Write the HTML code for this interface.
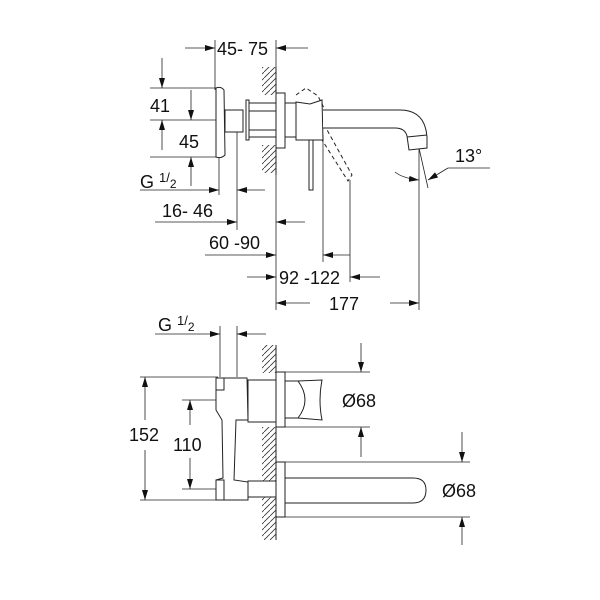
<!DOCTYPE html>
<html><head><meta charset="utf-8"><style>html,body{margin:0;padding:0;background:#fff}svg{display:block}</style></head>
<body>
<svg width="600" height="600" viewBox="0 0 600 600" xmlns="http://www.w3.org/2000/svg" font-family="Liberation Sans, sans-serif" font-size="18" fill="none" stroke="#222" stroke-width="1">
<defs>
<marker id="a" viewBox="0 0 10 6" refX="10" refY="3" markerWidth="10" markerHeight="6" markerUnits="userSpaceOnUse" orient="auto"><path d="M0,0 L10,3 L0,6z" fill="#111" stroke="none"/></marker>
<pattern id="h" width="6" height="6" patternUnits="userSpaceOnUse"><path d="M0,6 L6,0" stroke="#333" stroke-width="0.8"/></pattern>
</defs>
<g stroke-width="0.8">
<line x1="215" y1="40" x2="215" y2="90"/><line x1="276" y1="40" x2="276" y2="310"/>
<line x1="185" y1="48" x2="215" y2="48" marker-end="url(#a)"/><line x1="308" y1="48" x2="276" y2="48" marker-end="url(#a)"/>
<line x1="150" y1="88" x2="218" y2="88"/><line x1="150" y1="120" x2="225" y2="120"/><line x1="150" y1="157" x2="218" y2="157"/>
<line x1="162" y1="58" x2="162" y2="88" marker-end="url(#a)"/><line x1="162" y1="150" x2="162" y2="120" marker-end="url(#a)"/>
<line x1="191" y1="90" x2="191" y2="120" marker-end="url(#a)"/><line x1="191" y1="186" x2="191" y2="157" marker-end="url(#a)"/>
<line x1="219" y1="158" x2="219" y2="195"/><line x1="237" y1="130" x2="237" y2="230"/>
<line x1="140" y1="190" x2="219" y2="190" marker-end="url(#a)"/><line x1="265" y1="190" x2="237" y2="190" marker-end="url(#a)"/>
<line x1="155" y1="222" x2="237" y2="222" marker-end="url(#a)"/><line x1="305" y1="222" x2="276" y2="222" marker-end="url(#a)"/>
<line x1="205" y1="255" x2="276" y2="255" marker-end="url(#a)"/>
<line x1="323" y1="135" x2="323" y2="262"/><line x1="350" y1="180" x2="350" y2="282"/>
<line x1="350" y1="255" x2="323" y2="255" marker-end="url(#a)"/>
<line x1="247" y1="277" x2="276" y2="277" marker-end="url(#a)"/><line x1="380" y1="277" x2="350" y2="277" marker-end="url(#a)"/>
<line x1="310" y1="303" x2="276" y2="303" marker-end="url(#a)"/><line x1="390" y1="303" x2="419" y2="303" marker-end="url(#a)"/>
<line x1="419" y1="148" x2="419" y2="310"/><line x1="419" y1="148" x2="428" y2="188"/>
<path d="M395,172 Q402,178 419,180" marker-end="url(#a)"/><path d="M448,168 L490,168" /><path d="M448,168 L428,180" marker-end="url(#a)"/>
</g>
<g fill="#111" stroke="none">
<text x="217" y="55">45- 75</text>
<text x="150" y="112">41</text><text x="179" y="148">45</text>
<text x="140" y="188">G <tspan font-size="13" dy="-6">1</tspan><tspan font-size="13" dy="0">/</tspan><tspan font-size="12" dy="6">2</tspan></text>
<text x="162" y="217">16- 46</text><text x="209" y="249">60 -90</text>
<text x="279" y="284">92 -122</text><text x="329" y="310">177</text>
<text x="455" y="162">13°</text>
</g>
<rect x="262" y="67" width="14" height="28" fill="url(#h)" stroke="none"/>
<rect x="262" y="145" width="14" height="28" fill="url(#h)" stroke="none"/>
<line x1="276" y1="67" x2="276" y2="175"/>
<path d="M216,88 Q221,86 224,90 L225,155 Q221,159 216,157 Z" fill="#fff"/>
<rect x="225" y="110" width="18" height="22" fill="#fff"/>
<rect x="246" y="100" width="3" height="40" fill="#fff"/>
<rect x="249" y="103" width="27" height="34" fill="#fff"/>
<line x1="249" y1="111" x2="276" y2="111"/><line x1="249" y1="130" x2="276" y2="130"/>
<rect x="276" y="93" width="9" height="55" fill="#fff"/>
<rect x="285" y="103" width="11" height="34" fill="#fff"/>
<path d="M296,102 L310,104 L322,100 L323,140 L296,140 Z" fill="#fff"/>
<rect x="309" y="140" width="4" height="50" fill="#fff"/>
<path d="M296,95 L306,88 L318,96 L325,110 L326,128 L352,175 L348,181 L322,140" stroke-dasharray="4,3"/>
<path d="M323,110 L400,110 Q425,110 427,137 L427,148 L409,150 L407,136 Q405,128 395,128 L323,128" fill="#fff"/>
<line x1="407" y1="137" x2="427" y2="135"/>
<g stroke-width="0.8">
<line x1="155" y1="334" x2="220" y2="334" marker-end="url(#a)"/><line x1="266" y1="334" x2="237" y2="334" marker-end="url(#a)"/>
<line x1="220" y1="326" x2="220" y2="377"/><line x1="237" y1="326" x2="237" y2="377"/>
<line x1="140" y1="377" x2="218" y2="377"/><line x1="140" y1="500" x2="218" y2="500"/>
<line x1="182" y1="400" x2="218" y2="400"/><line x1="182" y1="489" x2="218" y2="489"/>
<line x1="145" y1="420" x2="145" y2="377" marker-end="url(#a)"/><line x1="145" y1="450" x2="145" y2="500" marker-end="url(#a)"/>
<line x1="190" y1="425" x2="190" y2="400" marker-end="url(#a)"/><line x1="190" y1="458" x2="190" y2="489" marker-end="url(#a)"/>
<line x1="285" y1="372" x2="370" y2="372"/><line x1="285" y1="427" x2="370" y2="427"/>
<line x1="361" y1="343" x2="361" y2="372" marker-end="url(#a)"/><line x1="361" y1="457" x2="361" y2="427" marker-end="url(#a)"/>
<line x1="285" y1="462" x2="470" y2="462"/><line x1="285" y1="517" x2="470" y2="517"/>
<line x1="462" y1="432" x2="462" y2="462" marker-end="url(#a)"/><line x1="462" y1="545" x2="462" y2="517" marker-end="url(#a)"/>
</g>
<g fill="#111" stroke="none">
<text x="158" y="331">G <tspan font-size="13" dy="-6">1</tspan><tspan font-size="13" dy="0">/</tspan><tspan font-size="12" dy="6">2</tspan></text>
<text x="129" y="441">152</text><text x="173" y="451">110</text>
<text x="342" y="407">Ø68</text><text x="442" y="497">Ø68</text>
</g>
<rect x="262" y="345" width="14" height="28" fill="url(#h)" stroke="none"/>
<rect x="262" y="427" width="14" height="113" fill="url(#h)" stroke="none"/>
<line x1="276" y1="345" x2="276" y2="540"/>
<path d="M216,378 L247,378 L248,420 L236,420 L234,480 L248,482 L248,500 L216,500 L216,480 L223,478 L222,420 L216,410 Z" fill="#fff"/>
<rect x="216" y="378" width="8" height="12" fill="#fff"/><rect x="216" y="480" width="8" height="20" fill="#fff"/>
<rect x="248" y="380" width="28" height="42" fill="#fff"/>
<rect x="248" y="481" width="28" height="16" fill="#fff"/>
<rect x="276" y="372" width="9" height="55" fill="#fff"/>
<path d="M285,381 L298,381 Q312,400 298,418 L285,418 Z" fill="#fff"/>
<path d="M298,381 L322,380 Q318,400 322,420 L298,418"/>
<rect x="276" y="462" width="9" height="55" fill="#fff"/>
<path d="M285,478 L413,478 Q426,478 426,490 Q426,503 413,503 L285,503 Z" fill="#fff"/>
</svg>
</body></html>
